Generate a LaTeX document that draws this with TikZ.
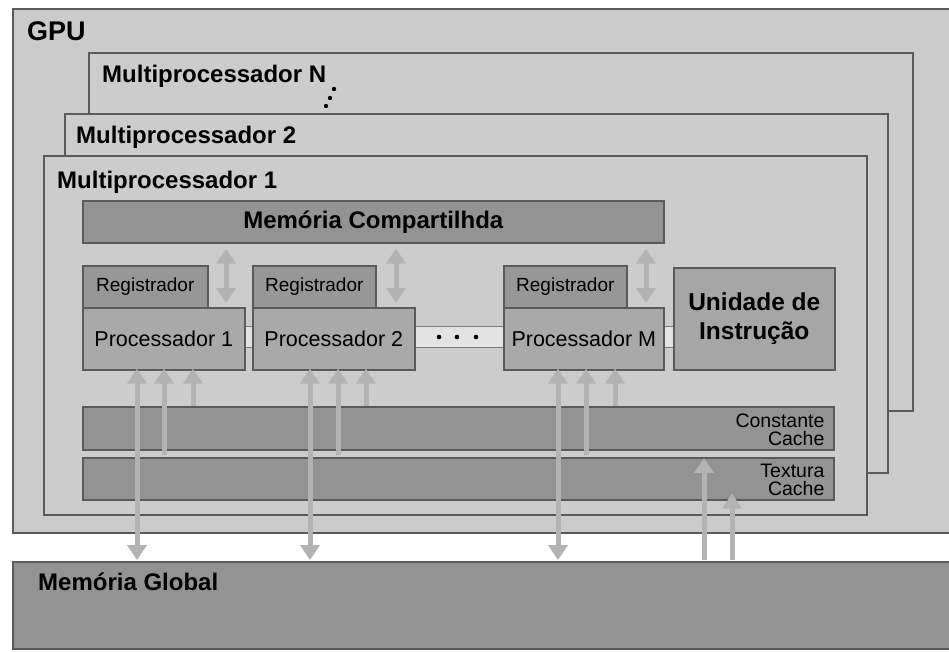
\documentclass[tikz,border=0pt]{standalone}
\usepackage{fontspec}
\setmainfont{Liberation Sans}
\usetikzlibrary{arrows.meta}
\definecolor{gpufill}{HTML}{CBCBCB}
\definecolor{mpfill}{HTML}{CCCCCC}
\definecolor{darkfill}{HTML}{939393}
\definecolor{regfill}{HTML}{979797}
\definecolor{procfill}{HTML}{A9A9A9}
\definecolor{unifill}{HTML}{A6A6A6}
\definecolor{barfill}{HTML}{E3E3E3}
\definecolor{bordc}{HTML}{5A5A5A}
\definecolor{arrowc}{HTML}{B3B3B3}
\tikzset{
  box/.style={rectangle, draw=bordc, line width=1.6pt, inner sep=0pt, anchor=north west},
  bigbold/.style={font=\fontsize{24}{29}\selectfont\bfseries},
  flowup/.style={draw=arrowc, line width=5pt, -{Triangle[width=19pt,length=15pt]}},
  flowboth/.style={draw=arrowc, line width=5pt, {Triangle[width=19pt,length=15pt]}-{Triangle[width=19pt,length=15pt]}},
}
\begin{document}
\begin{tikzpicture}[x=1pt,y=-1pt]
\clip (0,0) rectangle (949,651);
\fill[white] (0,0) rectangle (949,651);

% GPU and multiprocessors
\node[box, fill=gpufill, minimum width=960, minimum height=524] (gpu) at (12,8) {};
\node[bigbold, font=\fontsize{27}{32}\selectfont\bfseries, anchor=base west, inner sep=0pt] (gpulabel) at (27,40) {GPU};

\node[box, fill=mpfill, minimum width=824, minimum height=358] (mpn) at (88,52) {};
\node[bigbold, anchor=base west, inner sep=0pt] (mpnlabel) at (102,82) {Multiprocessador N};
\fill (334,89) circle (2.2) (330,98) circle (2.2) (326,106) circle (2.2);

\node[box, fill=mpfill, minimum width=823, minimum height=359] (mp2) at (64,113) {};
\node[bigbold, anchor=base west, inner sep=0pt] (mp2label) at (76,143) {Multiprocessador 2};

\node[box, fill=mpfill, minimum width=823, minimum height=359] (mp1) at (43,155) {};
\node[bigbold, anchor=base west, inner sep=0pt] (mp1label) at (57,188) {Multiprocessador 1};

% shared memory
\node[box, fill=darkfill, minimum width=581, minimum height=42, bigbold] (mem) at (82,200) {Memória Compartilhda};

% interconnect bar
\node[box, fill=barfill, line width=1.2pt, draw=bordc!80, minimum width=429, minimum height=21] (bar) at (244,326) {};
\fill (439,337) circle (2.3) (457,337) circle (2.3) (476,337) circle (2.3);

% registers and processors
\tikzset{regtext/.style={font=\fontsize{19}{22}\selectfont}, proctext/.style={font=\fontsize{21.5}{25}\selectfont}}
\node[box, fill=regfill, minimum width=125, minimum height=42, regtext] (reg1) at (82,265) {Registrador};
\node[box, fill=procfill, minimum width=162, minimum height=62, proctext] (proc1) at (82,307) {Processador 1};
\node[box, fill=regfill, minimum width=123, minimum height=42, regtext] (reg2) at (252,265) {Registrador};
\node[box, fill=procfill, minimum width=162, minimum height=62, proctext] (proc2) at (252,307) {Processador 2};
\node[box, fill=regfill, minimum width=123, minimum height=42, regtext] (regm) at (503,265) {Registrador};
\node[box, fill=procfill, minimum width=160, minimum height=62, proctext] (procm) at (503,307) {Processador M};

\node[box, fill=unifill, minimum width=161, minimum height=102, bigbold, font=\fontsize{24.5}{29}\selectfont\bfseries, align=center] (unit) at (673,267) {Unidade de\\Instrução};

% caches
\node[box, fill=darkfill, minimum width=751, minimum height=43] (cc) at (82,406) {};
\node[anchor=east, inner sep=0pt, align=right, font=\fontsize{19.5}{18}\selectfont] (cclabel) at ([xshift=-10pt,yshift=-1pt]cc.east) {Constante\\Cache};
\node[box, fill=darkfill, minimum width=751, minimum height=42] (tc) at (82,457) {};
\node[anchor=east, inner sep=0pt, align=right, font=\fontsize{19.5}{18}\selectfont] (tclabel) at ([xshift=-10pt,yshift=-1pt]tc.east) {Textura\\Cache};

% global memory
\node[box, fill=darkfill, minimum width=960, minimum height=87] (glob) at (12,561) {};
\node[bigbold, anchor=base west, inner sep=0pt] (globlabel) at (38,590) {Memória Global};

% x positions of connectors
\coordinate (s1) at (226,0);
\coordinate (s2) at (396,0);
\coordinate (s3) at (646,0);
\coordinate (p1a) at (137,0); \coordinate (p1b) at (164,0); \coordinate (p1c) at (193,0);
\coordinate (p2a) at (310,0); \coordinate (p2b) at (338,0); \coordinate (p2c) at (366,0);
\coordinate (pma) at (558,0); \coordinate (pmb) at (586,0); \coordinate (pmc) at (615,0);
\coordinate (g1) at (704,0); \coordinate (g2) at (732,0);

% shared memory <-> processors
\draw[flowboth, shorten <=5pt, shorten >=4pt] (mem.south -| s1) -- (proc1.north -| s1);
\draw[flowboth, shorten <=5pt, shorten >=4pt] (mem.south -| s2) -- (proc2.north -| s2);
\draw[flowboth, shorten <=5pt, shorten >=4pt] (mem.south -| s3) -- (procm.north -| s3);

% global / caches -> processors
\foreach \p/\a/\b/\c in {proc1/p1a/p1b/p1c, proc2/p2a/p2b/p2c, procm/pma/pmb/pmc}{
  \draw[flowboth, shorten <=1pt, shorten >=-2pt] (glob.north -| \a) -- (\p.south -| \a);
  \draw[flowup, shorten <=2pt, shorten >=-2pt] (tc.north -| \b) -- (\p.south -| \b);
  \draw[flowup, shorten >=-2pt] (cc.north -| \c) -- (\p.south -| \c);
}

% global -> caches
\draw[flowup, shorten <=1pt, shorten >=1pt] (glob.north -| g1) -- (tc.north -| g1);
\draw[flowup, shorten <=1pt, shorten >=-7pt] (glob.north -| g2) -- (tc.south -| g2);
\end{tikzpicture}
\end{document}
